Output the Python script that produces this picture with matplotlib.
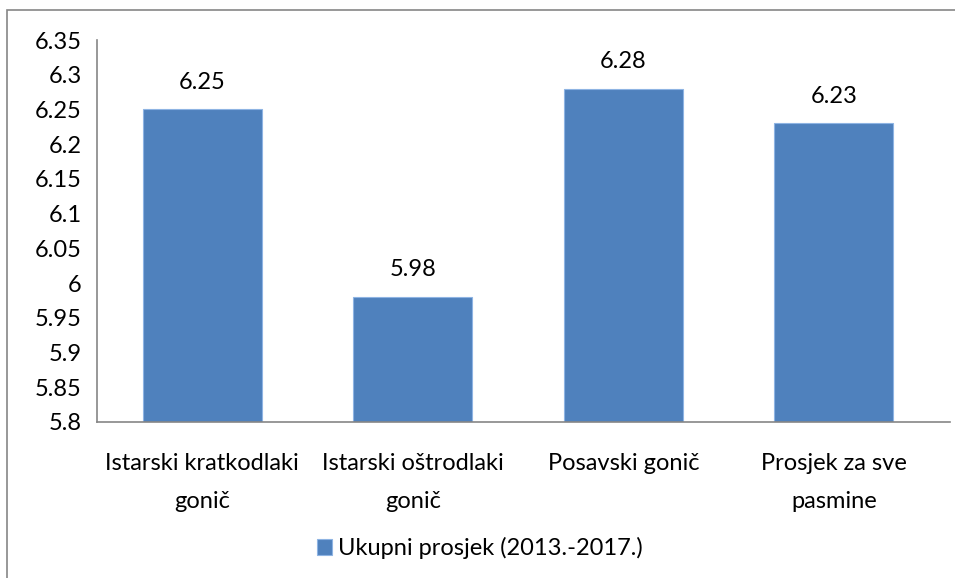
import matplotlib.pyplot as plt
from matplotlib.patches import Rectangle

# data
categories = ['Istarski kratkodlaki\ngonič', 'Istarski oštrodlaki\ngonič',
              'Posavski gonič', 'Prosjek za sve\npasmine']
values = [6.25, 5.98, 6.28, 6.23]
series_name = 'Ukupni prosjek (2013.-2017.)'
yticks = [5.8, 5.85, 5.9, 5.95, 6, 6.05, 6.1, 6.15, 6.2, 6.25, 6.3, 6.35]
ytick_labels = ['5.8', '5.85', '5.9', '5.95', '6', '6.05', '6.1', '6.15',
                '6.2', '6.25', '6.3', '6.35']

plt.rcParams['font.family'] = ['Lato', 'DejaVu Sans']
W, H = 955, 578
fig = plt.figure(figsize=(W / 100, H / 100), dpi=100)

# outer chart border (clipped at right/bottom like the reference)
fig.patches.append(Rectangle((7 / W, -0.05), 1.2, 1 - 10 / H + 0.05,
                             transform=fig.transFigure, fill=False,
                             edgecolor='#868686', linewidth=1.2))

ax = fig.add_axes([97 / W, 1 - 422 / H, (939 - 97) / W, (422 - 40) / H])
x = range(len(categories))
bars = ax.bar(x, values, width=0.567, color='#4F81BD', edgecolor='#8EB4E3',
              linewidth=0.8, label=series_name)
ax.set_xlim(-0.5, len(categories) - 0.5)
ax.set_ylim(5.8, 6.35)
ax.set_yticks(yticks)
ax.set_yticklabels(ytick_labels, fontsize=17)
ax.set_xticks(list(x))
ax.set_xticklabels(categories, fontsize=17, linespacing=2.0)
ax.tick_params(axis='y', length=0, pad=11)
ax.tick_params(axis='x', length=0, pad=22)

for s in ['top', 'right']:
    ax.spines[s].set_visible(False)
for s in ['left', 'bottom']:
    ax.spines[s].set_color('#868686')
    ax.spines[s].set_linewidth(1.2)
ax.spines['bottom'].set_bounds(-0.5, len(categories) - 0.45)
ax.spines['bottom'].set_clip_on(False)

for b, v in zip(bars, values):
    ax.annotate(f'{v:.2f}', (b.get_x() + b.get_width() / 2, v),
                xytext=(0, 12), textcoords='offset points',
                ha='center', va='bottom', fontsize=17)

fig.legend(loc='center', bbox_to_anchor=(480 / W, 1 - 548 / H), frameon=False,
           fontsize=17, handlelength=0.65, handleheight=0.65, handletextpad=0.25)

fig.savefig('out.png', dpi=100)
